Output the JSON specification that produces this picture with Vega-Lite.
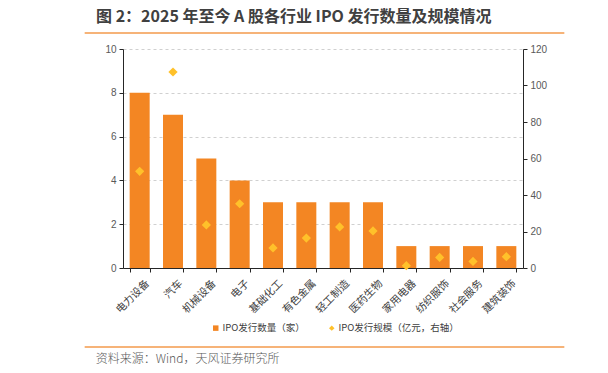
{
  "$schema": "https://vega.github.io/schema/vega-lite/v6.json",
  "width": 400,
  "height": 219,
  "autosize": "none",
  "padding": {"left": 123, "top": 49, "right": 85, "bottom": 105},
  "background": "white",
  "title": {
    "text": "图 2：2025 年至今 A 股各行业 IPO 发行数量及规模情况",
    "anchor": "start",
    "frame": "group",
    "dx": -27,
    "offset": 7,
    "fontSize": 16,
    "fontWeight": "bold",
    "color": "#404040",
    "font": "Noto Sans CJK SC"
  },
  "config": {
    "view": {"stroke": null},
    "font": "Noto Sans CJK SC",
    "axis": {"labelFont": "Noto Sans CJK SC", "labelFontSize": 10, "labelColor": "#404040", "domainColor": "#262626", "tickColor": "#262626", "tickSize": 4}
  },
  "data": {
    "values": [
      {"industry": "电力设备", "count": 8, "scale": 53},
      {"industry": "汽车", "count": 7, "scale": 107.4},
      {"industry": "机械设备", "count": 5, "scale": 23.6},
      {"industry": "电子", "count": 4, "scale": 35.2},
      {"industry": "基础化工", "count": 3, "scale": 11},
      {"industry": "有色金属", "count": 3, "scale": 16.4},
      {"industry": "轻工制造", "count": 3, "scale": 22.5},
      {"industry": "医药生物", "count": 3, "scale": 20.3},
      {"industry": "家用电器", "count": 1, "scale": 1.3},
      {"industry": "纺织服饰", "count": 1, "scale": 5.8},
      {"industry": "社会服务", "count": 1, "scale": 3.6},
      {"industry": "建筑装饰", "count": 1, "scale": 6.2}
    ]
  },
  "layer": [
    {
      "layer": [
        {
          "mark": {"type": "bar"},
          "encoding": {
            "x": {
              "field": "industry",
              "type": "nominal",
              "sort": null,
              "scale": {
                "domain": ["电力设备", "汽车", "机械设备", "电子", "基础化工", "有色金属", "轻工制造", "医药生物", "家用电器", "纺织服饰", "社会服务", "建筑装饰"],
                "paddingInner": 0.4,
                "paddingOuter": 0.2
              },
              "axis": {"title": null, "labelAngle": -45, "tickBand": "extent", "labelPadding": 6, "labelOffset": 4, "labelFontSize": 10.5}
            },
            "y": {
              "field": "count",
              "type": "quantitative",
              "scale": {"domain": [0, 10], "nice": false},
              "axis": {"title": null, "orient": "left", "values": [0, 2, 4, 6, 8, 10], "grid": true, "gridDash": [3, 3], "gridColor": "#d0d0d0", "labelFont": "Liberation Sans", "labelColor": "#595959", "labelPadding": 3}
            },
            "color": {
              "datum": "IPO发行数量（家）",
              "type": "nominal",
              "scale": {"domain": ["IPO发行数量（家）", "IPO发行规模（亿元，右轴）"], "range": ["#F38623", "#FFC12A"]},
              "legend": {
                "title": null,
                "orient": "none",
                "legendX": 88,
                "legendY": 274,
                "direction": "horizontal",
                "labelFontSize": 9.5,
                "labelColor": "#404040",
                "labelFont": "Noto Sans CJK SC",
                "labelOffset": 2,
                "symbolSize": 30,
                "columnPadding": 22,
                "labelLimit": 300,
                "encode": {"symbols": {"update": {"shape": {"signal": "datum.index === 0 ? 'square' : 'diamond'"}, "strokeWidth": {"value": 0}}}}
              }
            }
          }
        },
        {
          "data": {"values": [{"k": 1}]},
          "mark": {"type": "rule", "color": "#F39A4B", "strokeWidth": 1.5, "xOffset": -55, "x2Offset": 58},
          "encoding": {
            "x": {"datum": "电力设备"},
            "x2": {"datum": "建筑装饰"},
            "y": {"datum": 10.73}
          }
        },
        {
          "data": {"values": [{"k": 1}]},
          "mark": {"type": "rule", "color": "#F39A4B", "strokeWidth": 1.5, "xOffset": -55, "x2Offset": 58},
          "encoding": {
            "x": {"datum": "电力设备"},
            "x2": {"datum": "建筑装饰"},
            "y": {"datum": -3.61}
          }
        },
        {
          "data": {"values": [{"k": 1}]},
          "mark": {"type": "text", "text": "资料来源：Wind，天风证券研究所", "align": "left", "baseline": "middle", "dx": -44, "fontSize": 12, "fontWeight": 300, "color": "#595959", "font": "Noto Sans CJK SC"},
          "encoding": {
            "x": {"datum": "电力设备"},
            "y": {"datum": -4.155}
          }
        }
      ]
    },
    {
      "mark": {"type": "point", "shape": "diamond", "filled": true, "size": 85, "opacity": 1},
      "encoding": {
        "x": {"field": "industry", "type": "nominal", "sort": null},
        "y": {
          "field": "scale",
          "type": "quantitative",
          "scale": {"domain": [0, 120], "nice": false},
          "axis": {"title": null, "orient": "right", "values": [0, 20, 40, 60, 80, 100, 120], "grid": false, "labelFont": "Liberation Sans", "labelColor": "#595959", "labelPadding": 3}
        },
        "color": {"datum": "IPO发行规模（亿元，右轴）", "type": "nominal"}
      }
    }
  ],
  "resolve": {"scale": {"y": "independent"}}
}
